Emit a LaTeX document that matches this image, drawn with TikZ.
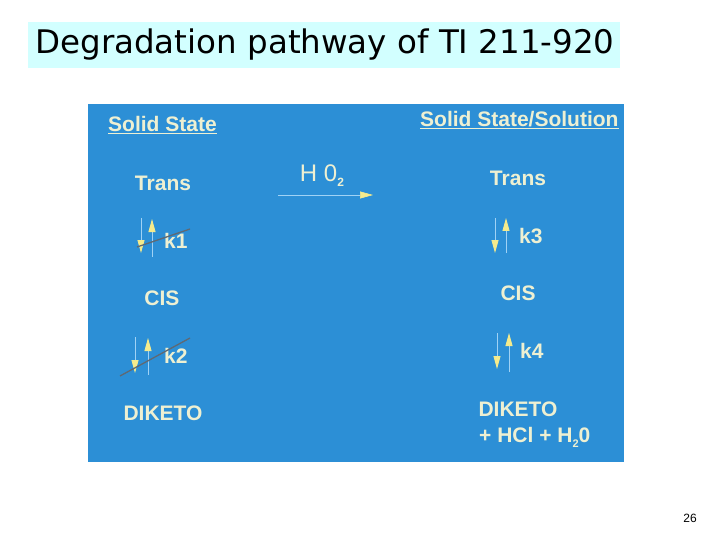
\documentclass[tikz,border=0pt]{standalone}
\usepackage{fontspec}
\setmainfont{Liberation Sans}
\newfontfamily\titlefont{DejaVu Sans}
\usetikzlibrary{arrows.meta}
\definecolor{slideblue}{RGB}{44,143,214}
\definecolor{paletext}{RGB}{238,240,210}
\definecolor{titlebg}{RGB}{210,255,255}
\definecolor{headyel}{RGB}{245,235,140}
\definecolor{shaftblue}{RGB}{160,210,245}
\definecolor{strike}{RGB}{95,105,115}
\tikzset{
  lbl/.style={text=paletext, font=\fontsize{21}{24}\selectfont\bfseries, inner sep=0pt},
  head/.style={text=paletext, font=\fontsize{21}{24}\selectfont\bfseries, inner sep=0pt, anchor=west},
  shaft/.style={draw=shaftblue, line width=0.9pt, -{Triangle[width=7pt,length=13pt,fill=headyel,color=headyel]}},
  strikeln/.style={draw=strike, line width=1.3pt},
}
\begin{document}
\begin{tikzpicture}[x=1pt,y=-1pt]
\useasboundingbox (0,0) rectangle (720,540);
\fill[white] (0,0) rectangle (720,540);
% title
\node[fill=titlebg, minimum width=592pt, minimum height=46pt, inner sep=0pt, anchor=north west] (titlebox) at (28,22) {};
\node[font=\titlefont\fontsize{32.5}{36}\selectfont, inner sep=0pt] (title) at (325,45) {Degradation pathway of TI 211-920};
% slide
\node[fill=slideblue, minimum width=536pt, minimum height=358pt, inner sep=0pt, anchor=north west] (slide) at (88,104) {};
% headings
\node[head] (hl) at (108,125) {\underline{Solid State}};
\node[head] (hr) at (420,120) {\underline{Solid State/Solution}};
% left column
\node[lbl] (tl) at (163,183) {Trans};
\node[lbl] (cl) at (162,298) {CIS};
\node[lbl] (dl) at (163,413) {DIKETO};
\node[lbl, anchor=west] (k1) at (164,241) {k1};
\node[lbl, anchor=west] (k2) at (164,356) {k2};
\coordinate (a1s) at (141,218); \coordinate (a1e) at (141,253);
\coordinate (b1s) at (152,257); \coordinate (b1e) at (152,219);
\draw[shaft] (a1s) -- (a1e);
\draw[shaft] (b1s) -- (b1e);
\coordinate (s1a) at (137,247); \coordinate (s1b) at (190,229);
\draw[strikeln] (s1a) -- (s1b);
\coordinate (a2s) at (135,337); \coordinate (a2e) at (135,373);
\coordinate (b2s) at (148,375); \coordinate (b2e) at (148,338);
\draw[shaft] (a2s) -- (a2e);
\draw[shaft] (b2s) -- (b2e);
\coordinate (s2a) at (120,376); \coordinate (s2b) at (190,338);
\draw[strikeln] (s2a) -- (s2b);
% middle
\node[lbl, font=\fontsize{24}{28}\selectfont] (h2o) at (322,176) {H 0\raisebox{-5pt}{\fontsize{12}{14}\selectfont\bfseries 2}};
\coordinate (hs) at (278,195); \coordinate (he) at (373,195);
\draw[shaft, line width=0.6pt] (hs) -- (he);
% right column
\node[lbl] (tr) at (518,178) {Trans};
\node[lbl] (cr) at (518,293) {CIS};
\node[lbl] (dr) at (518,409) {DIKETO};
\node[lbl, anchor=west] (hcl) at (479,437) {+ HCl + H\raisebox{-5pt}{\fontsize{11}{13}\selectfont 2}0};
\node[lbl, anchor=west] (k3) at (519,236) {k3};
\node[lbl, anchor=west] (k4) at (520,351) {k4};
\coordinate (a3s) at (495,218); \coordinate (a3e) at (495,253);
\coordinate (b3s) at (506,253); \coordinate (b3e) at (506,218);
\draw[shaft] (a3s) -- (a3e);
\draw[shaft] (b3s) -- (b3e);
\coordinate (a4s) at (497,333); \coordinate (a4e) at (497,369);
\coordinate (b4s) at (509,372); \coordinate (b4e) at (509,333);
\draw[shaft] (a4s) -- (a4e);
\draw[shaft] (b4s) -- (b4e);
% page number
\node[font=\fontsize{12}{14}\selectfont, inner sep=0pt] (pg) at (690,518) {26};
\end{tikzpicture}
\end{document}
